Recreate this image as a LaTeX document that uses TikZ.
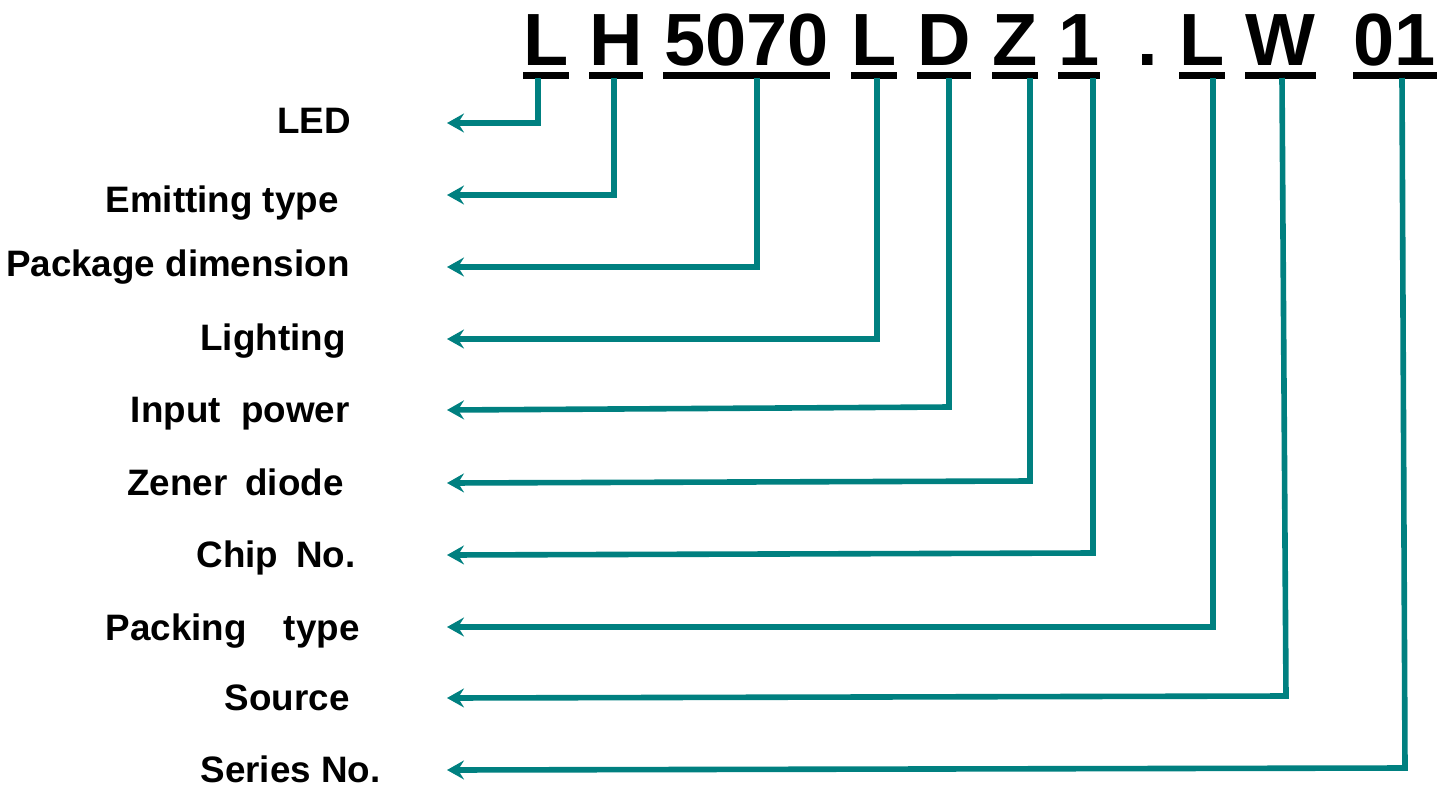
\documentclass[tikz,border=0pt]{standalone}
\usepackage{fontspec}
\setmainfont{Liberation Sans}
\usetikzlibrary{arrows.meta}

\tikzset{
  code/.style={anchor=base, inner sep=0pt, font=\fontsize{37}{40}\selectfont\bfseries},
  label/.style={anchor=base east, inner sep=0pt, font=\fontsize{18.4}{22}\selectfont\bfseries},
  uline/.style={line width=3.5pt},
  lead/.style={draw=teal, line width=2.8pt, -{Stealth[length=8.5pt, width=9.5pt, inset=3pt]}}
}

\begin{document}
\begin{tikzpicture}[x=0.5pt, y=-0.5pt]
			\useasboundingbox (0,0) rectangle (1448,789);
			% part number
			\node (cL) [code] at (546,65) {L};
			\node (cH) [code] at (616,65) {H};
			\node (cDim) [code] at (746.5,65) {5070};
			\node (cLgt) [code] at (874,65) {L};
			\node (cD) [code] at (944,65) {D};
			\node (cZ) [code] at (1015,65) {Z};
			\node (cChip) [code] at (1079,65) {1};
			\node (cDot) [code] at (1148,65) {.};
			\node (cPack) [code] at (1202,65) {L};
			\node (cW) [code] at (1280.5,65) {W};
			\node (cSer) [code] at (1395,65) {01};
			
			\draw [uline] (523,75.5) -- (569,75.5);
			\draw [uline] (589,75.5) -- (643,75.5);
			\draw [uline] (663,75.5) -- (830,75.5);
			\draw [uline] (851,75.5) -- (897,75.5);
			\draw [uline] (917,75.5) -- (971,75.5);
			\draw [uline] (992,75.5) -- (1038,75.5);
			\draw [uline] (1058,75.5) -- (1100,75.5);
			\draw [uline] (1179,75.5) -- (1225,75.5);
			\draw [uline] (1245,75.5) -- (1316,75.5);
			\draw [uline] (1353,75.5) -- (1437,75.5);
			
			% meanings
			\node (lLed) [label] at (351,133) {LED};
			\node (lEmit) [label] at (339,212) {Emitting type};
			\node (lDim) [label] at (350,276) {Package dimension};
			\node (lLgt) [label] at (346,350) {Lighting};
			\node (lPow) [label] at (350,422) {Input\ \ power};
			\node (lZen) [label] at (344,495) {Zener\hspace{9pt}diode};
			\node (lChip) [label] at (356,567) {Chip\hspace{9pt}No.};
			\node (lPack) [label] at (360,640) {Packing\hspace{18.5pt}type};
			\node (lSrc) [label] at (350,710) {Source};
			\node (lSer) [label] at (381,782) {Series No.};
			
			% leads: top, corner, tip
			\coordinate (v1) at (538,78);   \coordinate (k1) at (538,123);   \coordinate (t1) at (447,123);
			\coordinate (v2) at (614,78);   \coordinate (k2) at (614,195);   \coordinate (t2) at (447,195);
			\coordinate (v3) at (757,78);   \coordinate (k3) at (757,267);   \coordinate (t3) at (447,267);
			\coordinate (v4) at (877,78);   \coordinate (k4) at (877,339);   \coordinate (t4) at (447,339);
			\coordinate (v5) at (949,78);   \coordinate (k5) at (949,407);   \coordinate (t5) at (447,410);
			\coordinate (v6) at (1030,78);  \coordinate (k6) at (1030,481);  \coordinate (t6) at (447,483);
			\coordinate (v7) at (1093,78);  \coordinate (k7) at (1093,553);  \coordinate (t7) at (447,555);
			\coordinate (v8) at (1213,78);  \coordinate (k8) at (1213,627);  \coordinate (t8) at (447,627);
			\coordinate (v9) at (1282,78);  \coordinate (k9) at (1286,696);  \coordinate (t9) at (447,698);
			\coordinate (v10) at (1402,78); \coordinate (k10) at (1405,768); \coordinate (t10) at (447,770);
			
			\draw [lead] (v1) -- (k1) -- (t1);
			\draw [lead] (v2) -- (k2) -- (t2);
			\draw [lead] (v3) -- (k3) -- (t3);
			\draw [lead] (v4) -- (k4) -- (t4);
			\draw [lead] (v5) -- (k5) -- (t5);
			\draw [lead] (v6) -- (k6) -- (t6);
			\draw [lead] (v7) -- (k7) -- (t7);
			\draw [lead] (v8) -- (k8) -- (t8);
			\draw [lead] (v9) -- (k9) -- (t9);
			\draw [lead] (v10) -- (k10) -- (t10);
\end{tikzpicture}
\end{document}
